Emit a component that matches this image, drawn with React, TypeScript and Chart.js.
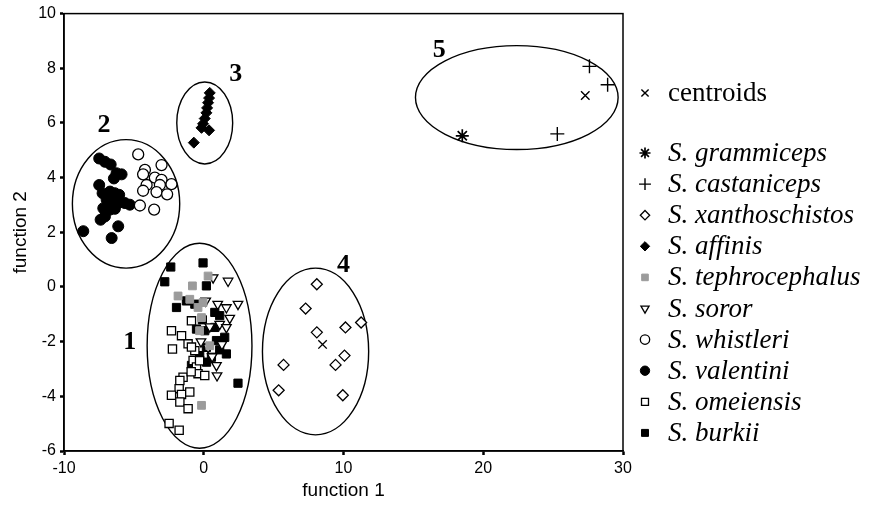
import React, { useEffect, useRef } from 'react';
import { Chart, registerables } from 'chart.js';
import { drawPoint } from 'chart.js/helpers';

Chart.register(...registerables);

// ---- axes ----
const xTickValues = [-10, 0, 10, 20, 30];
const yTickValues = [-6, -4, -2, 0, 2, 4, 6, 8, 10];
const xTitle = 'function 1';
const yTitle = 'function 2';

// ---- series (function 1, function 2) ----
const centroids = [[27.3, 7.0], [8.5, -2.1]];
const grammiceps = [[18.5, 5.53]];
const castaniceps = [[27.6, 8.07], [28.9, 7.4], [25.3, 5.6]];
const xanthoschistos = [
  [8.09, 0.1], [7.29, -0.79], [11.26, -1.3], [10.14, -1.48], [8.09, -1.66],
  [10.07, -2.51], [9.43, -2.85], [5.71, -2.85], [5.36, -3.78], [9.95, -3.96],
];
const affinis = [
  [0.43, 7.1], [0.38, 6.91], [0.31, 6.74], [0.24, 6.55], [0.19, 6.37],
  [0.07, 6.16], [-0.05, 5.97], [-0.16, 5.82], [0.38, 5.73], [-0.71, 5.28],
];
const tephrocephalus = [
  [0.31, 0.4], [-0.81, 0.04], [-1.84, -0.33], [-0.05, -0.57], [-0.41, -0.75],
  [-0.16, -1.12], [-1.0, -0.45], [0.43, -2.15], [-0.16, -4.33], [-0.3, -1.6],
];
const soror = [
  [0.67, 0.34], [1.74, 0.22], [0.14, -0.51], [2.45, -0.63], [1.62, -0.75],
  [1.86, -1.14], [1.14, -1.36], [0.43, -1.45], [1.62, -1.48], [0.31, -2.21],
  [0.91, -2.87], [0.95, -3.24], [1.0, -0.63], [1.3, -2.1], [0.6, -2.55], [-0.2, -2.0],
];
const whistleri = [
  [-4.69, 4.85], [-3.02, 4.46], [-4.21, 4.28], [-4.34, 4.12], [-3.5, 4.0],
  [-3.02, 3.92], [-2.31, 3.76], [-4.09, 3.73], [-3.14, 3.73], [-4.34, 3.52],
  [-3.38, 3.47], [-2.62, 3.39], [-4.57, 2.98], [-3.55, 2.83],
];
const valentini = [
  [-7.48, 4.7], [-7.07, 4.58], [-6.66, 4.48], [-6.24, 4.16], [-5.88, 4.12],
  [-6.43, 3.97], [-7.48, 3.73], [-7.24, 3.43], [-6.71, 3.49], [-6.36, 3.43],
  [-6.05, 3.37], [-6.95, 3.19], [-6.48, 3.13], [-6.12, 3.07], [-5.64, 3.07],
  [-5.29, 3.01], [-7.19, 2.88], [-6.71, 2.83], [-6.36, 2.86], [-7.07, 2.58],
  [-7.38, 2.46], [-6.12, 2.22], [-8.62, 2.04], [-6.59, 1.79],
];
const omeiensis = [
  [-2.31, -1.6], [-1.59, -1.78], [-0.88, -1.24], [-2.24, -2.27], [-1.12, -2.08],
  [-0.64, -2.33], [-0.76, -2.69], [-0.52, -2.93], [-0.41, -3.17], [0.07, -3.24],
  [-1.48, -3.3], [-1.71, -3.42], [-1.76, -3.72], [-2.31, -3.96], [-1.59, -3.93],
  [-1.0, -3.84], [-1.71, -4.21], [-1.12, -4.45], [-2.48, -4.99], [-1.76, -5.24],
  [-0.88, -2.2], [-0.3, -2.7], [-0.9, -3.1],
];
const burkii = [
  [-2.36, 0.73], [-0.05, 0.88], [-2.79, 0.19], [0.19, 0.04], [-1.95, -0.75],
  [-1.24, -0.51], [-0.64, -0.63], [0.79, -0.93], [1.14, -1.05], [-0.52, -1.54],
  [0.07, -1.6], [0.79, -1.48], [1.5, -1.84], [0.91, -1.96], [1.62, -2.45],
  [0.19, -2.21], [-0.29, -2.51], [0.55, -2.57], [-0.52, -2.87], [-0.88, -2.87],
  [2.45, -3.52], [1.14, -2.3], [0.2, -2.75], [-0.1, -1.2],
];

// ---- cluster ellipses (data units) ----
const clusterNames = ['1', '2', '3', '4', '5'];
const clusterCenterX = [-0.3, -5.56, 0.07, 8.0, 22.4];
const clusterCenterY = [-2.15, 3.04, 6.0, -2.36, 6.93];
const clusterRadiusX = [3.75, 3.84, 2.0, 3.8, 7.25];
const clusterRadiusY = [3.75, 2.35, 1.5, 3.05, 1.9];
const clusterLabelX = [-5.29, -7.14, 2.29, 10.0, 16.86];
const clusterLabelY = [-2.04, 5.93, 7.78, 0.8, 8.65];

const toPts = (a: number[][]) => a.map(([x, y]) => ({ x, y }));

type DS = any;
const BLACK = '#000000';
const GRAY = '#9b9b9b';

const datasets: DS[] = [
  { label: 'centroids', data: toPts(centroids), pointStyle: 'crossRot', pointRadius: 6, borderColor: BLACK, backgroundColor: BLACK, pointBorderWidth: 1.4, italic: false },
  { label: 'S. grammiceps', data: toPts(grammiceps), pointStyle: 'star', pointRadius: 6.5, borderColor: BLACK, backgroundColor: BLACK, pointBorderWidth: 1.7, italic: true },
  { label: 'S. castaniceps', data: toPts(castaniceps), pointStyle: 'cross', pointRadius: 7, borderColor: BLACK, backgroundColor: BLACK, pointBorderWidth: 1.4, italic: true },
  { label: 'S. xanthoschistos', data: toPts(xanthoschistos), pointStyle: 'rectRot', pointRadius: 5.5, borderColor: BLACK, backgroundColor: '#ffffff', pointBorderWidth: 1.3, italic: true },
  { label: 'S. affinis', data: toPts(affinis), pointStyle: 'rectRot', pointRadius: 5.5, borderColor: BLACK, backgroundColor: BLACK, pointBorderWidth: 1, italic: true },
  { label: 'S. tephrocephalus', data: toPts(tephrocephalus), pointStyle: 'rect', pointRadius: 5.5, borderColor: GRAY, backgroundColor: GRAY, pointBorderWidth: 1, italic: true },
  { label: 'S. soror', data: toPts(soror), pointStyle: 'triangle', pointRotation: 180, pointRadius: 5.5, borderColor: BLACK, backgroundColor: '#ffffff', pointBorderWidth: 1.3, italic: true },
  { label: 'S. whistleri', data: toPts(whistleri), pointStyle: 'circle', pointRadius: 5.5, borderColor: BLACK, backgroundColor: '#ffffff', pointBorderWidth: 1.3, italic: true },
  { label: 'S. valentini', data: toPts(valentini), pointStyle: 'circle', pointRadius: 5.5, borderColor: BLACK, backgroundColor: BLACK, pointBorderWidth: 1, italic: true },
  { label: 'S. omeiensis', data: toPts(omeiensis), pointStyle: 'rect', pointRadius: 5.8, borderColor: BLACK, backgroundColor: '#ffffff', pointBorderWidth: 1.3, italic: true },
  { label: 'S. burkii', data: toPts(burkii), pointStyle: 'rect', pointRadius: 5.8, borderColor: BLACK, backgroundColor: BLACK, pointBorderWidth: 1, italic: true },
];

const decorPlugin = {
  id: 'decor',
  beforeDatasetsDraw(chart: any) {
    const { ctx, chartArea, scales } = chart;
    const xs = scales.x;
    const ys = scales.y;
    ctx.save();
    ctx.strokeStyle = BLACK;
    ctx.lineWidth = 1.5;
    ctx.strokeRect(chartArea.left, chartArea.top, chartArea.right - chartArea.left, chartArea.bottom - chartArea.top);
    ctx.lineWidth = 1.4;
    for (let i = 0; i < clusterNames.length; i++) {
      const cx = xs.getPixelForValue(clusterCenterX[i]);
      const cy = ys.getPixelForValue(clusterCenterY[i]);
      const rx = Math.abs(xs.getPixelForValue(clusterCenterX[i] + clusterRadiusX[i]) - cx);
      const ry = Math.abs(ys.getPixelForValue(clusterCenterY[i] + clusterRadiusY[i]) - cy);
      ctx.beginPath();
      ctx.ellipse(cx, cy, rx, ry, 0, 0, Math.PI * 2);
      ctx.stroke();
    }
    ctx.fillStyle = BLACK;
    ctx.font = 'bold 26px "Liberation Serif", serif';
    ctx.textAlign = 'center';
    ctx.textBaseline = 'middle';
    for (let i = 0; i < clusterNames.length; i++) {
      ctx.fillText(clusterNames[i], xs.getPixelForValue(clusterLabelX[i]), ys.getPixelForValue(clusterLabelY[i]));
    }
    ctx.restore();
  },
  afterDraw(chart: any) {
    const { ctx, chartArea } = chart;
    const markerX = chartArea.right + 22;
    const textX = chartArea.right + 45;
    ctx.save();
    const dss = chart.data.datasets;
    for (let i = 0; i < dss.length; i++) {
      const ds = dss[i];
      const rowY = i === 0 ? 93 : 153 + (i - 1) * 31.1;
      ctx.fillStyle = ds.backgroundColor;
      ctx.strokeStyle = ds.borderColor;
      ctx.lineWidth = ds.pointBorderWidth;
      drawPoint(ctx, {
        pointStyle: ds.pointStyle,
        rotation: ds.pointRotation || 0,
        radius: ds.pointRadius * 0.85,
        borderWidth: ds.pointBorderWidth,
      } as any, markerX, rowY);
      ctx.fillStyle = BLACK;
      ctx.font = (ds.italic ? 'italic ' : '') + '27px "Liberation Serif", serif';
      ctx.textAlign = 'left';
      ctx.textBaseline = 'middle';
      ctx.fillText(ds.label, textX, rowY + 1);
    }
    ctx.restore();
  },
};

export default function App() {
  const ref = useRef<HTMLCanvasElement | null>(null);
  useEffect(() => {
    if (!ref.current) return;
    const chart = new Chart(ref.current, {
      type: 'scatter',
      data: { datasets },
      options: {
        animation: false,
        responsive: false,
        devicePixelRatio: 1,
        layout: { padding: { top: 11, right: 248, left: 0, bottom: 0 } },
        plugins: { legend: { display: false }, tooltip: { enabled: false } },
        elements: { point: { hoverRadius: 0 } },
        scales: {
          x: {
            type: 'linear',
            min: -10,
            max: 30,
            afterBuildTicks: (s: any) => { s.ticks = xTickValues.map((v) => ({ value: v })); },
            afterFit: (s: any) => { s.height = 59; },
            grid: { display: true, drawOnChartArea: false, drawTicks: true, tickLength: 4, tickWidth: 2.5, tickColor: BLACK },
            border: { display: true, color: BLACK, width: 1.5 },
            ticks: { color: BLACK, padding: 4, maxRotation: 0, font: { family: '"Liberation Sans", Arial, sans-serif', size: 16 } },
            title: { display: true, text: xTitle, color: BLACK, padding: { top: 0, bottom: 8 }, font: { family: '"Liberation Sans", Arial, sans-serif', size: 19 } },
          },
          y: {
            type: 'linear',
            min: -6,
            max: 10,
            afterBuildTicks: (s: any) => { s.ticks = yTickValues.map((v) => ({ value: v })); },
            afterFit: (s: any) => { s.width = 64; },
            grid: { display: true, drawOnChartArea: false, drawTicks: true, tickLength: 4, tickWidth: 2.5, tickColor: BLACK },
            border: { display: true, color: BLACK, width: 1.5 },
            ticks: { color: BLACK, padding: 4, font: { family: '"Liberation Sans", Arial, sans-serif', size: 16 } },
            title: { display: true, text: yTitle, color: BLACK, padding: { top: 9, bottom: 0 }, font: { family: '"Liberation Sans", Arial, sans-serif', size: 19 } },
          },
        },
      } as any,
      plugins: [decorPlugin],
    });
    return () => chart.destroy();
  }, []);
  return (
    <div style={{ position: 'fixed', left: 0, top: 0, width: 871, height: 510, background: '#ffffff' }}>
      <canvas ref={ref} width={871} height={510} style={{ display: 'block' }} />
    </div>
  );
}
